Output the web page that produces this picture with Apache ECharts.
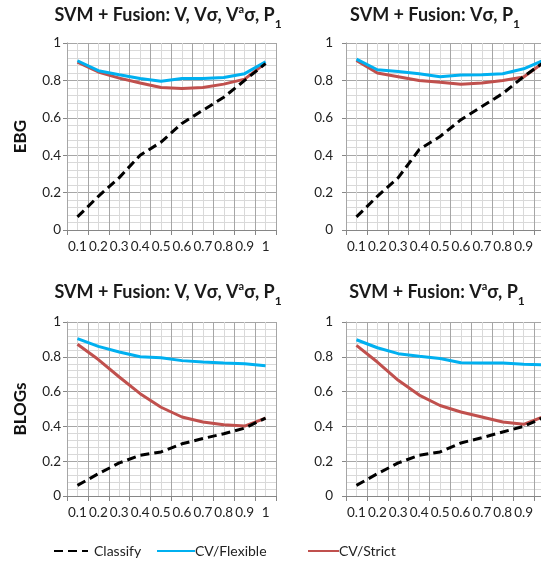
<!DOCTYPE html>
<html><head><meta charset="utf-8">
<script src="https://cdn.jsdelivr.net/npm/echarts@6/dist/echarts.min.js"></script>
<style>html,body{margin:0;padding:0;background:#fff}#c{width:541px;height:565px}</style>
</head><body><div id="c"></div>
<script>
var categories = ['0.1','0.2','0.3','0.4','0.5','0.6','0.7','0.8','0.9','1'];
var yTicks = [0, 0.2, 0.4, 0.6, 0.8, 1];

// Top-left: EBG, V, Vσ, Vaσ, P1
var ebgAllClassify = [0.07, 0.18, 0.28, 0.40, 0.47, 0.57, 0.64, 0.71, 0.80, 0.89];
var ebgAllFlexible = [0.905, 0.852, 0.83, 0.81, 0.795, 0.81, 0.81, 0.816, 0.836, 0.90];
var ebgAllStrict   = [0.898, 0.845, 0.812, 0.786, 0.762, 0.757, 0.762, 0.78, 0.807, 0.893];
// Top-right: EBG, Vσ, P1
var ebgVsClassify = [0.07, 0.18, 0.28, 0.43, 0.50, 0.59, 0.66, 0.73, 0.82, 0.90];
var ebgVsFlexible = [0.914, 0.857, 0.848, 0.836, 0.82, 0.829, 0.83, 0.836, 0.862, 0.91];
var ebgVsStrict   = [0.907, 0.84, 0.82, 0.80, 0.79, 0.78, 0.786, 0.80, 0.818, 0.90];
// Bottom-left: BLOGs, V, Vσ, Vaσ, P1
var blogAllClassify = [0.061, 0.128, 0.19, 0.234, 0.253, 0.30, 0.33, 0.358, 0.39, 0.448];
var blogAllFlexible = [0.905, 0.86, 0.828, 0.80, 0.795, 0.778, 0.77, 0.764, 0.76, 0.749];
var blogAllStrict   = [0.872, 0.784, 0.684, 0.588, 0.51, 0.454, 0.425, 0.41, 0.402, 0.448];
// Bottom-right: BLOGs, Vaσ, P1
var blogVaClassify = [0.061, 0.128, 0.19, 0.234, 0.253, 0.305, 0.335, 0.368, 0.40, 0.454];
var blogVaFlexible = [0.898, 0.852, 0.818, 0.803, 0.79, 0.766, 0.764, 0.764, 0.757, 0.753];
var blogVaStrict   = [0.866, 0.77, 0.665, 0.58, 0.52, 0.483, 0.454, 0.425, 0.412, 0.458];

var seriesNames = ['Classify', 'CV/Flexible', 'CV/Strict'];
var colors = ['#000000', '#00B0F0', '#C0504D'];
var FONT = 'Lato';

var grids = [
  {left: 67, top: 43, width: 209, height: 187},
  {left: 346, top: 43, width: 209, height: 187},
  {left: 67, top: 322, width: 209, height: 174},
  {left: 346, top: 322, width: 209, height: 174}
].map(function(g){ g.outerBoundsMode = 'none'; g.containLabel = false; return g; });
var panelData = [
  [ebgAllClassify, ebgAllFlexible, ebgAllStrict],
  [ebgVsClassify, ebgVsFlexible, ebgVsStrict],
  [blogAllClassify, blogAllFlexible, blogAllStrict],
  [blogVaClassify, blogVaFlexible, blogVaStrict]
];
var yNames = ['EBG', '', 'BLOGs', ''];
var yLabelMargin = [6, 13, 6, 13];

var titleRich = {
  b: {fontFamily: FONT, fontWeight: 'bold', fontSize: 18, color: '#1a1a1a', lineHeight: 24},
  sup: {fontFamily: FONT, fontWeight: 'bold', fontSize: 11, color: '#1a1a1a', lineHeight: 24, verticalAlign: 'top', padding: [1,0,0,0]},
  sub: {fontFamily: FONT, fontWeight: 'bold', fontSize: 12, color: '#1a1a1a', lineHeight: 24, verticalAlign: 'bottom', padding: [0,0,-3,0]}
};
var titles = [
  {text: '{b|SVM + Fusion: V, Vσ, V}{sup|a}{b|σ, P}{sub|1}', left: 168, top: 3},
  {text: '{b|SVM + Fusion: Vσ, P}{sub|1}', left: 435, top: 3},
  {text: '{b|SVM + Fusion: V, Vσ, V}{sup|a}{b|σ, P}{sub|1}', left: 168, top: 280},
  {text: '{b|SVM + Fusion: V}{sup|a}{b|σ, P}{sub|1}', left: 437, top: 280}
].map(function(t){
  return {text: t.text, left: t.left, top: t.top, textAlign: 'center', padding: 0,
    textStyle: {rich: titleRich, fontSize: 18}};
});

var xAxes = [], yAxes = [], series = [];
grids.forEach(function(g, i){
  xAxes.push({
    type: 'category', gridIndex: i, data: categories, boundaryGap: true,
    axisLine: {show: true, lineStyle: {color: '#868686', width: 1}},
    axisTick: {show: true, length: 5, interval: 0, lineStyle: {color: '#868686'}},
    axisLabel: {interval: 0, margin: 10, fontFamily: FONT, fontSize: 13.5, color: '#222', hideOverlap: false},
    splitLine: {show: true, interval: 0, lineStyle: {color: '#a6a6a6', width: 1}},
    z: 3
  });
  // helper axis for half-band grid lines
  xAxes.push({
    type: 'value', gridIndex: i, min: 0, max: 20, interval: 1, show: true,
    axisLine: {show: false}, axisTick: {show: false}, axisLabel: {show: false},
    splitLine: {show: true, lineStyle: {color: '#d9d9d9', width: 1}},
    z: 1
  });
  yAxes.push({
    type: 'value', gridIndex: i, min: yTicks[0], max: yTicks[yTicks.length-1], interval: 0.2,
    name: yNames[i], nameLocation: 'middle', nameRotate: 90, nameGap: 38,
    nameTextStyle: {fontFamily: FONT, fontWeight: 'bold', fontSize: 17, color: '#111'},
    axisLine: {show: true, lineStyle: {color: '#868686'}},
    axisTick: {show: true, length: 4, lineStyle: {color: '#868686'}},
    axisLabel: {margin: yLabelMargin[i], fontFamily: FONT, fontSize: 13.5, color: '#222',
      formatter: function(v){ return String(Math.round(v*10)/10); }},
    splitLine: {show: true, lineStyle: {color: '#a6a6a6', width: 1}},
    minorTick: {show: false, splitNumber: 5},
    minorSplitLine: {show: true, lineStyle: {color: '#d9d9d9', width: 1}}
  });
  panelData[i].forEach(function(arr, k){
    series.push({
      name: seriesNames[k], type: 'line', xAxisIndex: i*2, yAxisIndex: i,
      data: arr, symbol: 'none', showSymbol: false, legendIcon: 'none', smooth: false, z: 10 - k,
      lineStyle: {color: colors[k], width: 3, type: k === 0 ? [9, 5] : 'solid'},
      itemStyle: {color: colors[k]}
    });
  });
});

var legends = [
  {data: ['Classify'], left: 53, itemWidth: 34, itemGap: 8, tp: 6},
  {data: ['CV/Flexible'], left: 156, itemWidth: 38, itemGap: 0, tp: 0},
  {data: ['CV/Strict'], left: 307, itemWidth: 31, itemGap: 0, tp: 0}
].map(function(l){
  return {data: l.data, left: l.left, top: 544, itemWidth: l.itemWidth, itemHeight: 14,
    padding: 0, itemGap: 0, itemStyle: {opacity: 0},
    textStyle: {fontFamily: FONT, fontSize: 14, color: '#222', padding: [0,0,0,l.tp - 5]}};
});

var chart = echarts.init(document.getElementById('c'), null, {renderer: 'canvas'});
chart.setOption({
  animation: false,
  title: titles,
  legend: legends,
  grid: grids,
  xAxis: xAxes,
  yAxis: yAxes,
  series: series
});
</script></body></html>
